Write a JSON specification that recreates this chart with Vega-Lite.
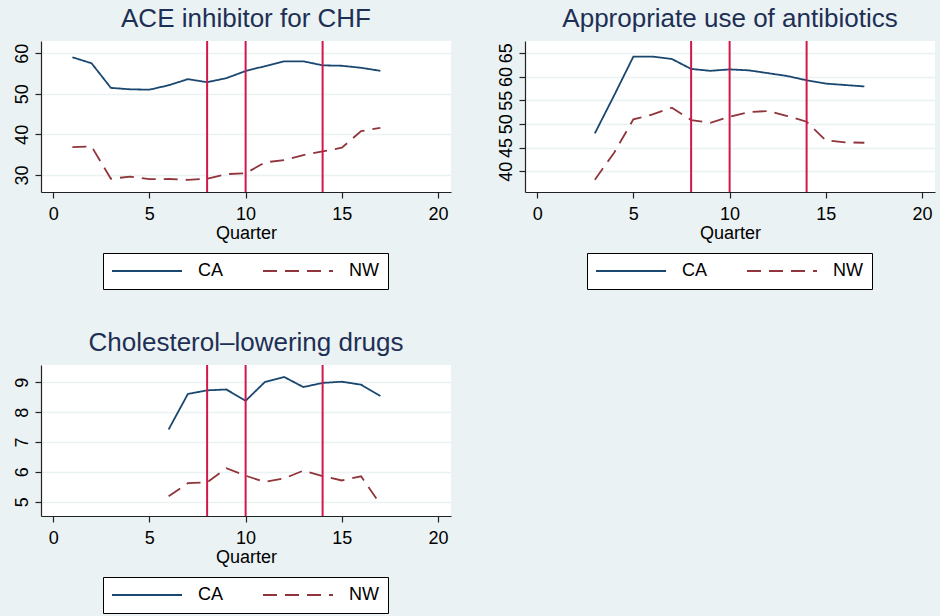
{
  "$schema": "https://vega.github.io/schema/vega-lite/v6.json",
  "background": "#eaf2f3",
  "padding": {"left": 12, "top": 6, "right": 5, "bottom": 3},
  "datasets": {
    "ace": [
      {"quarter": 1, "series": "CA", "value": 59.0}, {"quarter": 2, "series": "CA", "value": 57.5},
      {"quarter": 3, "series": "CA", "value": 51.45}, {"quarter": 4, "series": "CA", "value": 51.1},
      {"quarter": 5, "series": "CA", "value": 51.0}, {"quarter": 6, "series": "CA", "value": 52.1},
      {"quarter": 7, "series": "CA", "value": 53.6}, {"quarter": 8, "series": "CA", "value": 52.85},
      {"quarter": 9, "series": "CA", "value": 53.85}, {"quarter": 10, "series": "CA", "value": 55.6},
      {"quarter": 11, "series": "CA", "value": 56.8}, {"quarter": 12, "series": "CA", "value": 58.0},
      {"quarter": 13, "series": "CA", "value": 58.0}, {"quarter": 14, "series": "CA", "value": 57.0},
      {"quarter": 15, "series": "CA", "value": 56.9}, {"quarter": 16, "series": "CA", "value": 56.4},
      {"quarter": 17, "series": "CA", "value": 55.65},
      {"quarter": 1, "series": "NW", "value": 36.85}, {"quarter": 2, "series": "NW", "value": 37.0},
      {"quarter": 3, "series": "NW", "value": 29.05}, {"quarter": 4, "series": "NW", "value": 29.6},
      {"quarter": 5, "series": "NW", "value": 28.97}, {"quarter": 6, "series": "NW", "value": 29.0},
      {"quarter": 7, "series": "NW", "value": 28.8}, {"quarter": 8, "series": "NW", "value": 29.05},
      {"quarter": 9, "series": "NW", "value": 30.2}, {"quarter": 10, "series": "NW", "value": 30.4},
      {"quarter": 11, "series": "NW", "value": 33.1}, {"quarter": 12, "series": "NW", "value": 33.65},
      {"quarter": 13, "series": "NW", "value": 34.9}, {"quarter": 14, "series": "NW", "value": 35.8},
      {"quarter": 15, "series": "NW", "value": 36.7}, {"quarter": 16, "series": "NW", "value": 40.8},
      {"quarter": 17, "series": "NW", "value": 41.6}
    ],
    "abx": [
      {"quarter": 3, "series": "CA", "value": 48.0}, {"quarter": 4, "series": "CA", "value": 56.0},
      {"quarter": 5, "series": "CA", "value": 64.2}, {"quarter": 6, "series": "CA", "value": 64.2},
      {"quarter": 7, "series": "CA", "value": 63.7}, {"quarter": 8, "series": "CA", "value": 61.6},
      {"quarter": 9, "series": "CA", "value": 61.2}, {"quarter": 10, "series": "CA", "value": 61.5},
      {"quarter": 11, "series": "CA", "value": 61.3}, {"quarter": 12, "series": "CA", "value": 60.7},
      {"quarter": 13, "series": "CA", "value": 60.1}, {"quarter": 14, "series": "CA", "value": 59.2},
      {"quarter": 15, "series": "CA", "value": 58.5}, {"quarter": 16, "series": "CA", "value": 58.2},
      {"quarter": 17, "series": "CA", "value": 57.9},
      {"quarter": 3, "series": "NW", "value": 38.2}, {"quarter": 4, "series": "NW", "value": 43.9},
      {"quarter": 5, "series": "NW", "value": 50.95}, {"quarter": 6, "series": "NW", "value": 52.0},
      {"quarter": 7, "series": "NW", "value": 53.4}, {"quarter": 8, "series": "NW", "value": 50.8},
      {"quarter": 9, "series": "NW", "value": 50.2}, {"quarter": 10, "series": "NW", "value": 51.5},
      {"quarter": 11, "series": "NW", "value": 52.5}, {"quarter": 12, "series": "NW", "value": 52.7},
      {"quarter": 13, "series": "NW", "value": 51.65}, {"quarter": 14, "series": "NW", "value": 50.45},
      {"quarter": 15, "series": "NW", "value": 46.5}, {"quarter": 16, "series": "NW", "value": 46.1},
      {"quarter": 17, "series": "NW", "value": 46.0}
    ],
    "chol": [
      {"quarter": 6, "series": "CA", "value": 7.42}, {"quarter": 7, "series": "CA", "value": 8.61},
      {"quarter": 8, "series": "CA", "value": 8.73}, {"quarter": 9, "series": "CA", "value": 8.76},
      {"quarter": 10, "series": "CA", "value": 8.38}, {"quarter": 11, "series": "CA", "value": 9.01},
      {"quarter": 12, "series": "CA", "value": 9.18}, {"quarter": 13, "series": "CA", "value": 8.84},
      {"quarter": 14, "series": "CA", "value": 8.98}, {"quarter": 15, "series": "CA", "value": 9.02},
      {"quarter": 16, "series": "CA", "value": 8.92}, {"quarter": 17, "series": "CA", "value": 8.54},
      {"quarter": 6, "series": "NW", "value": 5.18}, {"quarter": 7, "series": "NW", "value": 5.62},
      {"quarter": 8, "series": "NW", "value": 5.65}, {"quarter": 9, "series": "NW", "value": 6.12},
      {"quarter": 10, "series": "NW", "value": 5.87}, {"quarter": 11, "series": "NW", "value": 5.66},
      {"quarter": 12, "series": "NW", "value": 5.78}, {"quarter": 13, "series": "NW", "value": 6.04},
      {"quarter": 14, "series": "NW", "value": 5.86}, {"quarter": 15, "series": "NW", "value": 5.71},
      {"quarter": 16, "series": "NW", "value": 5.85}, {"quarter": 17, "series": "NW", "value": 4.91}
    ],
    "breaks": [{"quarter": 8}, {"quarter": 10}, {"quarter": 14}]
  },
  "columns": 2,
  "spacing": {"row": 40, "column": 45},
  "resolve": {
    "scale": {"color": "independent", "strokeDash": "independent"},
    "legend": {"color": "independent", "strokeDash": "independent"}
  },
  "concat": [
    {
      "width": 410, "height": 151,
      "title": "ACE inhibitor for CHF",
      "layer": [
        {
          "data": {"name": "ace"},
          "mark": {"type": "line", "strokeWidth": 1.8},
          "encoding": {
            "x": {"field": "quarter", "type": "quantitative", "scale": {"domain": [-0.63, 20.67], "nice": false, "zero": false}, "axis": {"values": [0, 5, 10, 15, 20], "title": "Quarter"}},
            "y": {"field": "value", "type": "quantitative", "scale": {"domain": [25.8, 63.0], "nice": false, "zero": false}, "axis": {"values": [30, 40, 50, 60], "title": null}},
            "color": {"field": "series", "type": "nominal", "scale": {"domain": ["CA", "NW"], "range": ["#1a476f", "#90353b"]}},
            "strokeDash": {"field": "series", "type": "nominal", "scale": {"domain": ["CA", "NW"], "range": [[1, 0], [14, 8]]}}
          }
        },
        {
          "data": {"name": "breaks"},
          "mark": {"type": "rule", "color": "#d0184a", "strokeWidth": 2},
          "encoding": {"x": {"field": "quarter", "type": "quantitative"}}
        }
      ]
    },
    {
      "width": 410, "height": 151,
      "title": "Appropriate use of antibiotics",
      "layer": [
        {
          "data": {"name": "abx"},
          "mark": {"type": "line", "strokeWidth": 1.8},
          "encoding": {
            "x": {"field": "quarter", "type": "quantitative", "scale": {"domain": [-0.63, 20.67], "nice": false, "zero": false}, "axis": {"values": [0, 5, 10, 15, 20], "title": "Quarter"}},
            "y": {"field": "value", "type": "quantitative", "scale": {"domain": [35.6, 67.5], "nice": false, "zero": false}, "axis": {"values": [40, 45, 50, 55, 60, 65], "title": null}},
            "color": {"field": "series", "type": "nominal", "scale": {"domain": ["CA", "NW"], "range": ["#1a476f", "#90353b"]}},
            "strokeDash": {"field": "series", "type": "nominal", "scale": {"domain": ["CA", "NW"], "range": [[1, 0], [14, 8]]}}
          }
        },
        {
          "data": {"name": "breaks"},
          "mark": {"type": "rule", "color": "#d0184a", "strokeWidth": 2},
          "encoding": {"x": {"field": "quarter", "type": "quantitative"}}
        }
      ]
    },
    {
      "width": 410, "height": 151,
      "title": "Cholesterol–lowering drugs",
      "layer": [
        {
          "data": {"name": "chol"},
          "mark": {"type": "line", "strokeWidth": 1.8},
          "encoding": {
            "x": {"field": "quarter", "type": "quantitative", "scale": {"domain": [-0.63, 20.67], "nice": false, "zero": false}, "axis": {"values": [0, 5, 10, 15, 20], "title": "Quarter"}},
            "y": {"field": "value", "type": "quantitative", "scale": {"domain": [4.52, 9.58], "nice": false, "zero": false}, "axis": {"values": [5, 6, 7, 8, 9], "title": null}},
            "color": {"field": "series", "type": "nominal", "scale": {"domain": ["CA", "NW"], "range": ["#1a476f", "#90353b"]}},
            "strokeDash": {"field": "series", "type": "nominal", "scale": {"domain": ["CA", "NW"], "range": [[1, 0], [14, 8]]}}
          }
        },
        {
          "data": {"name": "breaks"},
          "mark": {"type": "rule", "color": "#d0184a", "strokeWidth": 2},
          "encoding": {"x": {"field": "quarter", "type": "quantitative"}}
        }
      ]
    }
  ],
  "config": {
    "font": "Liberation Sans",
    "view": {"fill": "white", "stroke": null},
    "title": {"fontSize": 26, "fontWeight": "normal", "color": "#1e2f55", "anchor": "middle", "offset": 8, "font": "Liberation Sans"},
    "axis": {
      "domainColor": "#222", "domainWidth": 1.2, "tickColor": "#222", "tickWidth": 1.2, "tickSize": 6,
      "labelFontSize": 18, "labelColor": "#000", "labelFont": "Liberation Sans",
      "titleFontSize": 18, "titleFontWeight": "normal", "titleColor": "#000", "titleFont": "Liberation Sans",
      "gridColor": "#eaf2f3", "gridWidth": 1.5
    },
    "axisX": {"grid": false, "labelPadding": 7, "titlePadding": 1, "labelFlush": false, "labelOverlap": false},
    "axisY": {"grid": true, "labelAngle": 270, "labelAlign": "center", "labelBaseline": "alphabetic", "labelPadding": 8, "labelOverlap": false, "labelFlush": false},
    "legend": {
      "orient": "none", "legendX": 62, "legendY": 212, "direction": "horizontal", "title": null,
      "strokeColor": "#000", "fillColor": "#fff", "padding": 9,
      "symbolType": "M-1.8,0H12.2", "symbolSize": 100, "symbolStrokeWidth": 1.8,
      "labelFontSize": 18, "labelColor": "#000", "labelFont": "Liberation Sans", "labelOffset": 68,
      "columnPadding": 35
    }
  }
}
